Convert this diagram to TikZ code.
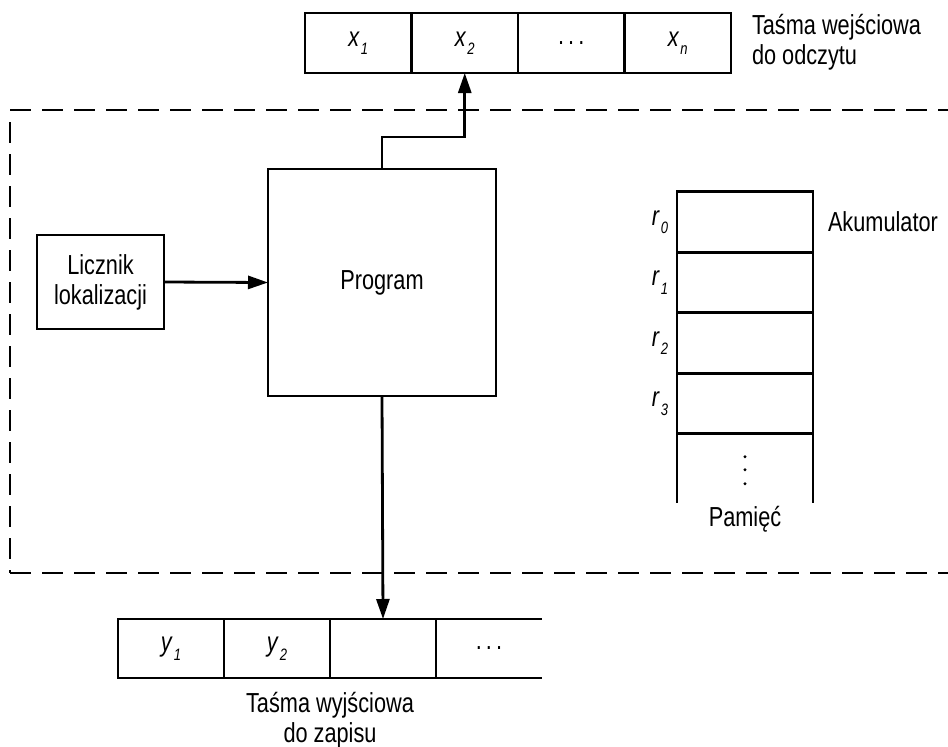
\documentclass[tikz,border=0pt]{standalone}
\usepackage{fontspec}
\setmainfont{Liberation Sans}[FakeStretch=0.79]
\usetikzlibrary{arrows.meta,positioning,calc}
% italic symbol with a lowered italic index
\newcommand\idx[2]{\textit{#1}\kern1pt\raisebox{-8.5pt}{\fontsize{16.5pt}{16.5pt}\selectfont\textit{#2}}}
\begin{document}
\begin{tikzpicture}[x=1pt,y=-1pt,
  font=\fontsize{27.5pt}{30pt}\selectfont,
  box/.style={draw,line width=2.8pt,inner sep=0pt,outer sep=0pt},
  tapecell/.style={box,minimum width=106.5pt,minimum height=60pt},
  outcell/.style={box,minimum width=106pt,minimum height=59pt},
  memcell/.style={box,minimum width=136pt,minimum height=60.5pt},
  label/.style={inner sep=0pt,outer sep=0pt},
  conn/.style={line width=2.8pt,-{Triangle[length=20pt,width=13pt]}},
  border/.style={line width=2.5pt,dash pattern=on 21pt off 11pt}]
\useasboundingbox (0,0) rectangle (948,747);

% machine boundary (open on the right)
\draw[border] (10,110) -- (948,110);
\draw[border] (10,122) -- (10,573);
\draw[border] (10,573) -- (948,573);

% input tape
\node[tapecell] (x1) at (358.25,43) {\idx{x}{1}};
\node[tapecell] (x2) at (464.75,43) {\idx{x}{2}};
\node[tapecell] (x3) at (571.25,43) {.\hspace{4pt}.\hspace{4pt}.};
\node[tapecell] (xn) at (677.75,43) {\idx{x}{n}};
\node[label,anchor=west,align=left] (intxt) at (752,42) {Taśma wejściowa\\do odczytu};

% control unit
\node[box,minimum width=127pt,minimum height=94pt,align=center] (lic) at (100.5,282) {Licznik\\lokalizacji};
\node[box,minimum width=228pt,minimum height=227pt] (prog) at (382,282.5) {Program};

% memory registers
\node[memcell] (r0) at (745,222) {};
\node[memcell] (r1) at (745,282.5) {};
\node[memcell] (r2) at (745,343) {};
\node[memcell] (r3) at (745,403.5) {};
\draw[line width=2.8pt] (r3.south west) -- ++(0,69);
\draw[line width=2.8pt] (r3.south east) -- ++(0,69);
\foreach \d in {23,36,50} \fill (r3.south) ++(0,\d) circle (1.7pt);
\node[label,left=9pt of r0] {\idx{r}{0}};
\node[label,left=9pt of r1] {\idx{r}{1}};
\node[label,left=9pt of r2] {\idx{r}{2}};
\node[label,left=9pt of r3] {\idx{r}{3}};
\node[label,anchor=west] (acc) at (828,222) {Akumulator};
\node[label] (mem) at (745,519) {Pamięć};

% output tape (open on the right)
\node[outcell] (y1) at (171,648.5) {\idx{y}{1}};
\node[outcell] (y2) at (277,648.5) {\idx{y}{2}};
\node[outcell] (y3) at (383,648.5) {};
\coordinate (ytop) at ($(y3.north east)+(106,0)$);
\coordinate (ybot) at ($(y3.south east)+(106,0)$);
\draw[line width=2.8pt] (y3.north east) -- (ytop);
\draw[line width=2.8pt] (y3.south east) -- (ybot);
\node[label] (ydots) at (489,648) {.\hspace{4pt}.\hspace{4pt}.};
\node[label,anchor=north,align=center] (outtxt) at (330,692) {Taśma wyjściowa\\do zapisu};

% connections
\draw[conn] (lic.east) -- (prog.west);
\draw[conn] (prog.north) -- ++(0,-32) -| (x2.south);
\draw[conn] (prog.south) -- (y3.north);
\end{tikzpicture}
\end{document}
